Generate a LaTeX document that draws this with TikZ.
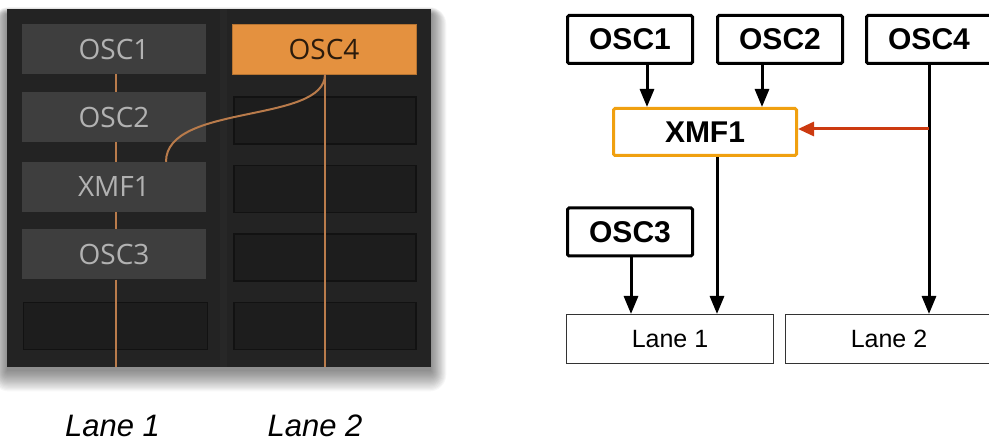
\documentclass[tikz,border=0pt]{standalone}
\usepackage{fontspec}
\setmainfont{Liberation Sans}
\newfontfamily\uifont{Open Sans}
\usetikzlibrary{arrows.meta}
\definecolor{panelbg}{HTML}{232323}
\definecolor{panelband}{HTML}{272727}
\definecolor{cellfull}{HTML}{3E3E3E}
\definecolor{celltext}{HTML}{B2B2B2}
\definecolor{cellempty}{HTML}{1D1D1D}
\definecolor{celledge}{HTML}{121212}
\definecolor{wireor}{HTML}{B97B4B}
\definecolor{oscfill}{HTML}{E4913F}
\definecolor{osctext}{HTML}{2B1B0C}
\definecolor{xmfedge}{HTML}{F0A010}
\definecolor{redarrow}{HTML}{CC3A10}
\tikzset{
  fullcell/.style={rectangle, inner sep=0pt, minimum width=184pt, minimum height=50pt,
    fill=cellfull, text=celltext, font=\uifont\fontsize{28}{30}\selectfont},
  orangecell/.style={fullcell, fill=oscfill, draw=oscfill!80!black, line width=0.8pt, text=osctext},
  emptycell/.style={rectangle, inner sep=0pt, minimum width=182pt, minimum height=47pt,
    fill=cellempty, draw=celledge, line width=1.5pt},
  wire/.style={wireor, line width=2pt},
  blockbox/.style={rectangle, draw=black, line width=3pt, rounded corners=1.5pt, inner sep=0pt,
    minimum width=125pt, minimum height=48pt, font=\bfseries\fontsize{30}{34}\selectfont},
  xmfbox/.style={blockbox, draw=xmfedge, minimum width=183pt, minimum height=47pt},
  lanebox/.style={rectangle, draw=black!80, line width=1pt, inner sep=0pt,
    minimum width=207pt, minimum height=49pt, font=\fontsize{25}{30}\selectfont},
  arr/.style={line width=3pt, -{Triangle[length=18pt,width=14pt]}},
  redarr/.style={arr, draw=redarrow, -{Triangle[length=16pt,width=14pt]}, redarrow},
  lanelabel/.style={anchor=base, inner sep=0pt, font=\itshape\fontsize{31}{36}\selectfont}
}
\begin{document}
\begin{tikzpicture}[x=1pt,y=-1pt]
\useasboundingbox (0,0) rectangle (989,443);
% ---------- left panel: shadow ----------
\foreach \i in {0,...,17}{
  \fill[black,opacity=0.03,rounded corners=\i pt] ({7-\i*0.9},{14-\i*0.4}) rectangle ({431+\i*0.9},{371+\i*1.2});
}
\fill[panelbg] (7,9) rectangle (431,367);
\fill[panelband] (220,9) rectangle (227,367);
% ---------- left panel: cells ----------
\node[fullcell] (losc1) at (114,49) {OSC1};
\node[fullcell] (losc2) at (114,117) {OSC2};
\node[fullcell] (lxmf) at (114,187) {XMF1};
\node[fullcell] (losc3) at (114,254.5) {OSC3};
\node[emptycell, minimum width=184pt] (lempty) at (115.5,326) {};
\node[orangecell] (losc4) at (324,49) {OSC4};
\node[emptycell] (e1) at (325,120.5) {};
\node[emptycell] (e2) at (325,189) {};
\node[emptycell] (e3) at (325,257.5) {};
\node[emptycell] (e4) at (325,326) {};
\coordinate (lane1end) at (116,367);
\coordinate (lane2end) at (325,367);
% ---------- left panel: wires ----------
\draw[wire] ([xshift=2pt]losc1.south) -- ([xshift=2pt]losc2.north);
\draw[wire] ([xshift=2pt]losc2.south) -- ([xshift=2pt]lxmf.north);
\draw[wire] ([xshift=2pt]lxmf.south) -- ([xshift=2pt]losc3.north);
\draw[wire] ([xshift=2pt]losc3.south) -- (lane1end);
\draw[wire] ([xshift=1pt]losc4.south) -- (lane2end);
\draw[wire] ([xshift=1pt]losc4.south) .. controls (325,124) and (166,103) .. ([xshift=52pt]lxmf.north);
% ---------- left panel: labels ----------
\node[lanelabel] (lab1) at (112.5,437) {Lane 1};
\node[lanelabel] (lab2) at (315,437) {Lane 2};
% ---------- right diagram ----------
\node[blockbox] (osc1) at (630,39.5) {OSC1};
\node[blockbox] (osc2) at (780,39.5) {OSC2};
\node[blockbox] (osc4) at (929,39.5) {OSC4};
\node[xmfbox] (xmf) at (705,132) {XMF1};
\node[blockbox] (osc3) at (630,232) {OSC3};
\node[lanebox] (lane1) at (670,339) {Lane 1};
\node[lanebox] (lane2) at (889,339) {Lane 2};
\draw[arr] ([xshift=17pt]osc1.south) -- ([xshift=-58pt]xmf.north);
\draw[arr] ([xshift=-18pt]osc2.south) -- ([xshift=57pt]xmf.north);
\draw[arr] ([xshift=12pt]xmf.south) -- ([xshift=47pt]lane1.north);
\draw[arr] ([xshift=1pt]osc3.south) -- ([xshift=-39pt]lane1.north);
\draw[arr] (osc4.south) -- ([xshift=40pt]lane2.north);
\coordinate (tap) at (929,129);
\draw[redarr] (tap) -- (tap -| xmf.east);
\end{tikzpicture}
\end{document}
